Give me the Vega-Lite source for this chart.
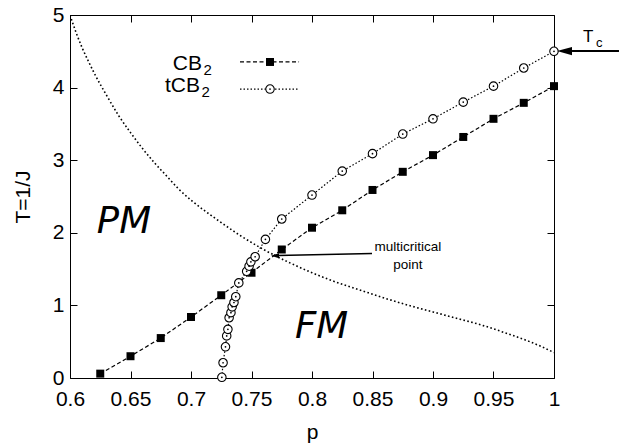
{
  "$schema": "https://vega.github.io/schema/vega-lite/v6.json",
  "width": 484,
  "height": 363,
  "autosize": "none",
  "padding": {"left": 70, "top": 15, "right": 65, "bottom": 67},
  "background": "white",
  "config": {
    "view": {"stroke": "black", "strokeWidth": 1},
    "font": "Liberation Sans",
    "axis": {
      "domain": false,
      "grid": false,
      "tickColor": "black",
      "tickSize": -7,
      "tickWidth": 1,
      "labelColor": "black",
      "labelFont": "Liberation Sans",
      "labelFontSize": 21,
      "titleFont": "Liberation Sans",
      "titleFontSize": 21,
      "titleFontWeight": "normal",
      "titleColor": "black"
    }
  },
  "datasets": {
    "cb": [
      {"p": 0.625, "T": 0.06}, {"p": 0.65, "T": 0.30}, {"p": 0.675, "T": 0.55},
      {"p": 0.7, "T": 0.84}, {"p": 0.725, "T": 1.14}, {"p": 0.75, "T": 1.45},
      {"p": 0.775, "T": 1.77}, {"p": 0.8, "T": 2.07}, {"p": 0.825, "T": 2.31},
      {"p": 0.85, "T": 2.59}, {"p": 0.875, "T": 2.84}, {"p": 0.9, "T": 3.07},
      {"p": 0.925, "T": 3.32}, {"p": 0.95, "T": 3.57}, {"p": 0.975, "T": 3.79},
      {"p": 1.0, "T": 4.02}
    ],
    "tcb": [
      {"p": 0.7255, "T": 0.01}, {"p": 0.7265, "T": 0.21}, {"p": 0.7285, "T": 0.43},
      {"p": 0.7295, "T": 0.58}, {"p": 0.7305, "T": 0.67}, {"p": 0.7315, "T": 0.83},
      {"p": 0.733, "T": 0.90}, {"p": 0.734, "T": 0.98}, {"p": 0.7355, "T": 1.04},
      {"p": 0.737, "T": 1.12}, {"p": 0.7395, "T": 1.31}, {"p": 0.746, "T": 1.47},
      {"p": 0.748, "T": 1.54}, {"p": 0.7495, "T": 1.60}, {"p": 0.753, "T": 1.67},
      {"p": 0.7615, "T": 1.91}, {"p": 0.775, "T": 2.19}, {"p": 0.8, "T": 2.52},
      {"p": 0.825, "T": 2.85}, {"p": 0.85, "T": 3.09}, {"p": 0.875, "T": 3.36},
      {"p": 0.9, "T": 3.57}, {"p": 0.925, "T": 3.80}, {"p": 0.95, "T": 4.02},
      {"p": 0.975, "T": 4.27}, {"p": 1.0, "T": 4.50}
    ],
    "pm": [
      {"p": 0.6, "T": 5.0}, {"p": 0.605, "T": 4.76}, {"p": 0.61, "T": 4.55},
      {"p": 0.615, "T": 4.37}, {"p": 0.62, "T": 4.2}, {"p": 0.63, "T": 3.9},
      {"p": 0.64, "T": 3.62}, {"p": 0.65, "T": 3.38}, {"p": 0.66, "T": 3.16},
      {"p": 0.67, "T": 2.96}, {"p": 0.68, "T": 2.78}, {"p": 0.69, "T": 2.6},
      {"p": 0.7, "T": 2.45}, {"p": 0.72, "T": 2.2}, {"p": 0.74, "T": 1.97},
      {"p": 0.76, "T": 1.77}, {"p": 0.78, "T": 1.6}, {"p": 0.8, "T": 1.45},
      {"p": 0.82, "T": 1.32}, {"p": 0.84, "T": 1.21}, {"p": 0.86, "T": 1.1},
      {"p": 0.88, "T": 1.0}, {"p": 0.9, "T": 0.91}, {"p": 0.92, "T": 0.82},
      {"p": 0.94, "T": 0.73}, {"p": 0.96, "T": 0.62}, {"p": 0.98, "T": 0.5},
      {"p": 0.99, "T": 0.43}, {"p": 1.0, "T": 0.35}
    ]
  },
  "resolve": {"axis": {"x": "independent", "y": "independent"}},
  "layer": [
    {
      "data": {"name": "pm"},
      "mark": {"type": "line", "color": "black", "strokeWidth": 1.6, "strokeDash": [1.6, 2.4], "clip": true, "interpolate": "monotone"},
      "encoding": {
        "x": {"field": "p", "type": "quantitative", "scale": {"domain": [0.6, 1], "nice": false, "zero": false},
              "axis": {"title": "p", "values": [0.6, 0.65, 0.7, 0.75, 0.8, 0.85, 0.9, 0.95, 1], "format": "~g", "labelPadding": 17, "titlePadding": 12, "labelFlush": false}},
        "y": {"field": "T", "type": "quantitative", "scale": {"domain": [0, 5], "nice": false, "zero": false},
              "axis": {"title": "T=1/J", "values": [0, 1, 2, 3, 4, 5], "format": "d", "labelPadding": 13, "titlePadding": 19, "labelFlush": false}},
        "order": {"field": "p", "type": "quantitative"}
      }
    },
    {
      "data": {"name": "pm"},
      "mark": {"type": "point", "opacity": 0},
      "encoding": {
        "x": {"field": "p", "type": "quantitative", "scale": {"domain": [0.6, 1], "nice": false, "zero": false},
              "axis": {"orient": "top", "labels": false, "title": null, "values": [0.6, 0.65, 0.7, 0.75, 0.8, 0.85, 0.9, 0.95, 1]}},
        "y": {"field": "T", "type": "quantitative", "scale": {"domain": [0, 5], "nice": false, "zero": false},
              "axis": {"orient": "right", "labels": false, "title": null, "values": [0, 1, 2, 3, 4, 5]}}
      }
    },
    {
      "data": {"name": "cb"},
      "mark": {"type": "line", "color": "black", "strokeWidth": 1.2, "strokeDash": [4, 2.5]},
      "encoding": {
        "x": {"field": "p", "type": "quantitative", "axis": null},
        "y": {"field": "T", "type": "quantitative", "axis": null}
      }
    },
    {
      "data": {"name": "tcb"},
      "mark": {"type": "line", "color": "black", "strokeWidth": 1.2, "strokeDash": [1.5, 2]},
      "encoding": {
        "x": {"field": "p", "type": "quantitative", "axis": null},
        "y": {"field": "T", "type": "quantitative", "axis": null},
        "order": {"field": "T", "type": "quantitative"}
      }
    },
    {
      "data": {"name": "cb"},
      "mark": {"type": "point", "shape": "square", "filled": true, "color": "black", "size": 64, "opacity": 1},
      "encoding": {
        "x": {"field": "p", "type": "quantitative", "axis": null},
        "y": {"field": "T", "type": "quantitative", "axis": null}
      }
    },
    {
      "data": {"name": "tcb"},
      "mark": {"type": "point", "shape": "circle", "filled": false, "fill": "white", "fillOpacity": 1, "stroke": "black", "strokeWidth": 1.1, "size": 72, "opacity": 1},
      "encoding": {
        "x": {"field": "p", "type": "quantitative", "axis": null},
        "y": {"field": "T", "type": "quantitative", "axis": null}
      }
    },
    {
      "data": {"name": "tcb"},
      "mark": {"type": "point", "shape": "circle", "filled": true, "color": "black", "size": 3, "opacity": 1},
      "encoding": {
        "x": {"field": "p", "type": "quantitative", "axis": null},
        "y": {"field": "T", "type": "quantitative", "axis": null}
      }
    },
    {
      "data": {"values": [{"p": 0.7405, "p2": 0.7893, "T": 4.353}]},
      "mark": {"type": "rule", "color": "black", "strokeWidth": 1.2, "strokeDash": [4, 2.5]},
      "encoding": {
        "x": {"field": "p", "type": "quantitative", "axis": null},
        "x2": {"field": "p2"},
        "y": {"field": "T", "type": "quantitative", "axis": null}
      }
    },
    {
      "data": {"values": [{"p": 0.7405, "p2": 0.7893, "T": 3.98}]},
      "mark": {"type": "rule", "color": "black", "strokeWidth": 1.2, "strokeDash": [1.5, 2]},
      "encoding": {
        "x": {"field": "p", "type": "quantitative", "axis": null},
        "x2": {"field": "p2"},
        "y": {"field": "T", "type": "quantitative", "axis": null}
      }
    },
    {
      "data": {"values": [{"p": 0.7653, "T": 4.353}]},
      "mark": {"type": "point", "shape": "square", "filled": true, "color": "black", "size": 64, "opacity": 1},
      "encoding": {
        "x": {"field": "p", "type": "quantitative", "axis": null},
        "y": {"field": "T", "type": "quantitative", "axis": null}
      }
    },
    {
      "data": {"values": [{"p": 0.7653, "T": 3.98}]},
      "mark": {"type": "point", "shape": "circle", "filled": false, "fill": "white", "fillOpacity": 1, "stroke": "black", "strokeWidth": 1.1, "size": 72, "opacity": 1},
      "encoding": {
        "x": {"field": "p", "type": "quantitative", "axis": null},
        "y": {"field": "T", "type": "quantitative", "axis": null}
      }
    },
    {
      "data": {"values": [{"p": 0.7653, "T": 3.98}]},
      "mark": {"type": "point", "shape": "circle", "filled": true, "color": "black", "size": 3, "opacity": 1},
      "encoding": {
        "x": {"field": "p", "type": "quantitative", "axis": null},
        "y": {"field": "T", "type": "quantitative", "axis": null}
      }
    },
    {
      "data": {"values": [{"p": 0.7091, "T": 4.24, "label": "CB"}, {"p": 0.7074, "T": 3.94, "label": "tCB"}]},
      "mark": {"type": "text", "align": "right", "baseline": "alphabetic", "fontSize": 21, "font": "Liberation Sans", "color": "black"},
      "encoding": {
        "x": {"field": "p", "type": "quantitative", "axis": null},
        "y": {"field": "T", "type": "quantitative", "axis": null},
        "text": {"field": "label"}
      }
    },
    {
      "data": {"values": [{"p": 0.7103, "T": 4.17, "label": "2"}, {"p": 0.7086, "T": 3.87, "label": "2"}]},
      "mark": {"type": "text", "align": "left", "baseline": "alphabetic", "fontSize": 15, "font": "Liberation Sans", "color": "black"},
      "encoding": {
        "x": {"field": "p", "type": "quantitative", "axis": null},
        "y": {"field": "T", "type": "quantitative", "axis": null},
        "text": {"field": "label"}
      }
    },
    {
      "data": {"values": [{"p": 0.6446, "T": 2.15, "label": "PM"}, {"p": 0.808, "T": 0.70, "label": "FM"}]},
      "mark": {"type": "text", "align": "center", "baseline": "middle", "fontSize": 37, "fontStyle": "italic", "font": "DejaVu Sans", "color": "black"},
      "encoding": {
        "x": {"field": "p", "type": "quantitative", "axis": null},
        "y": {"field": "T", "type": "quantitative", "axis": null},
        "text": {"field": "label"}
      }
    },
    {
      "data": {"values": [{"p": 0.8793, "T": 1.80, "label": "multicritical"}, {"p": 0.8793, "T": 1.556, "label": "point"}]},
      "mark": {"type": "text", "align": "center", "baseline": "middle", "fontSize": 13.5, "font": "Liberation Sans", "color": "black"},
      "encoding": {
        "x": {"field": "p", "type": "quantitative", "axis": null},
        "y": {"field": "T", "type": "quantitative", "axis": null},
        "text": {"field": "label"}
      }
    },
    {
      "data": {"values": [{"p": 1.024, "T": 4.628, "label": "T"}]},
      "mark": {"type": "text", "align": "left", "baseline": "alphabetic", "fontSize": 17, "font": "Liberation Sans", "color": "black"},
      "encoding": {
        "x": {"field": "p", "type": "quantitative", "axis": null},
        "y": {"field": "T", "type": "quantitative", "axis": null},
        "text": {"field": "label"}
      }
    },
    {
      "data": {"values": [{"p": 1.0347, "T": 4.559, "label": "c"}]},
      "mark": {"type": "text", "align": "left", "baseline": "alphabetic", "fontSize": 13, "font": "Liberation Sans", "color": "black"},
      "encoding": {
        "x": {"field": "p", "type": "quantitative", "axis": null},
        "y": {"field": "T", "type": "quantitative", "axis": null},
        "text": {"field": "label"}
      }
    },
    {
      "data": {"values": [{"p": 1.0149, "p2": 1.0537, "T": 4.504}]},
      "mark": {"type": "rule", "color": "black", "strokeWidth": 2},
      "encoding": {
        "x": {"field": "p", "type": "quantitative", "axis": null},
        "x2": {"field": "p2"},
        "y": {"field": "T", "type": "quantitative", "axis": null}
      }
    },
    {
      "data": {"values": [{"p": 1.0087, "T": 4.504}]},
      "mark": {"type": "point", "shape": "M-1,0L1,-0.55L1,0.55Z", "filled": true, "color": "black", "size": 225, "opacity": 1},
      "encoding": {
        "x": {"field": "p", "type": "quantitative", "axis": null},
        "y": {"field": "T", "type": "quantitative", "axis": null}
      }
    },
    {
      "data": {"values": [{"p": 0.7719, "p2": 0.8496, "T": 1.687, "T2": 1.715}]},
      "mark": {"type": "rule", "color": "black", "strokeWidth": 1.5},
      "encoding": {
        "x": {"field": "p", "type": "quantitative", "axis": null},
        "x2": {"field": "p2"},
        "y": {"field": "T", "type": "quantitative", "axis": null},
        "y2": {"field": "T2"}
      }
    },
    {
      "data": {"values": [{"p": 0.7694, "T": 1.684}]},
      "mark": {"type": "point", "shape": "M-1,0L1,-0.6L1,0.6Z", "filled": true, "color": "black", "size": 64, "opacity": 1},
      "encoding": {
        "x": {"field": "p", "type": "quantitative", "axis": null},
        "y": {"field": "T", "type": "quantitative", "axis": null}
      }
    }
  ]
}
